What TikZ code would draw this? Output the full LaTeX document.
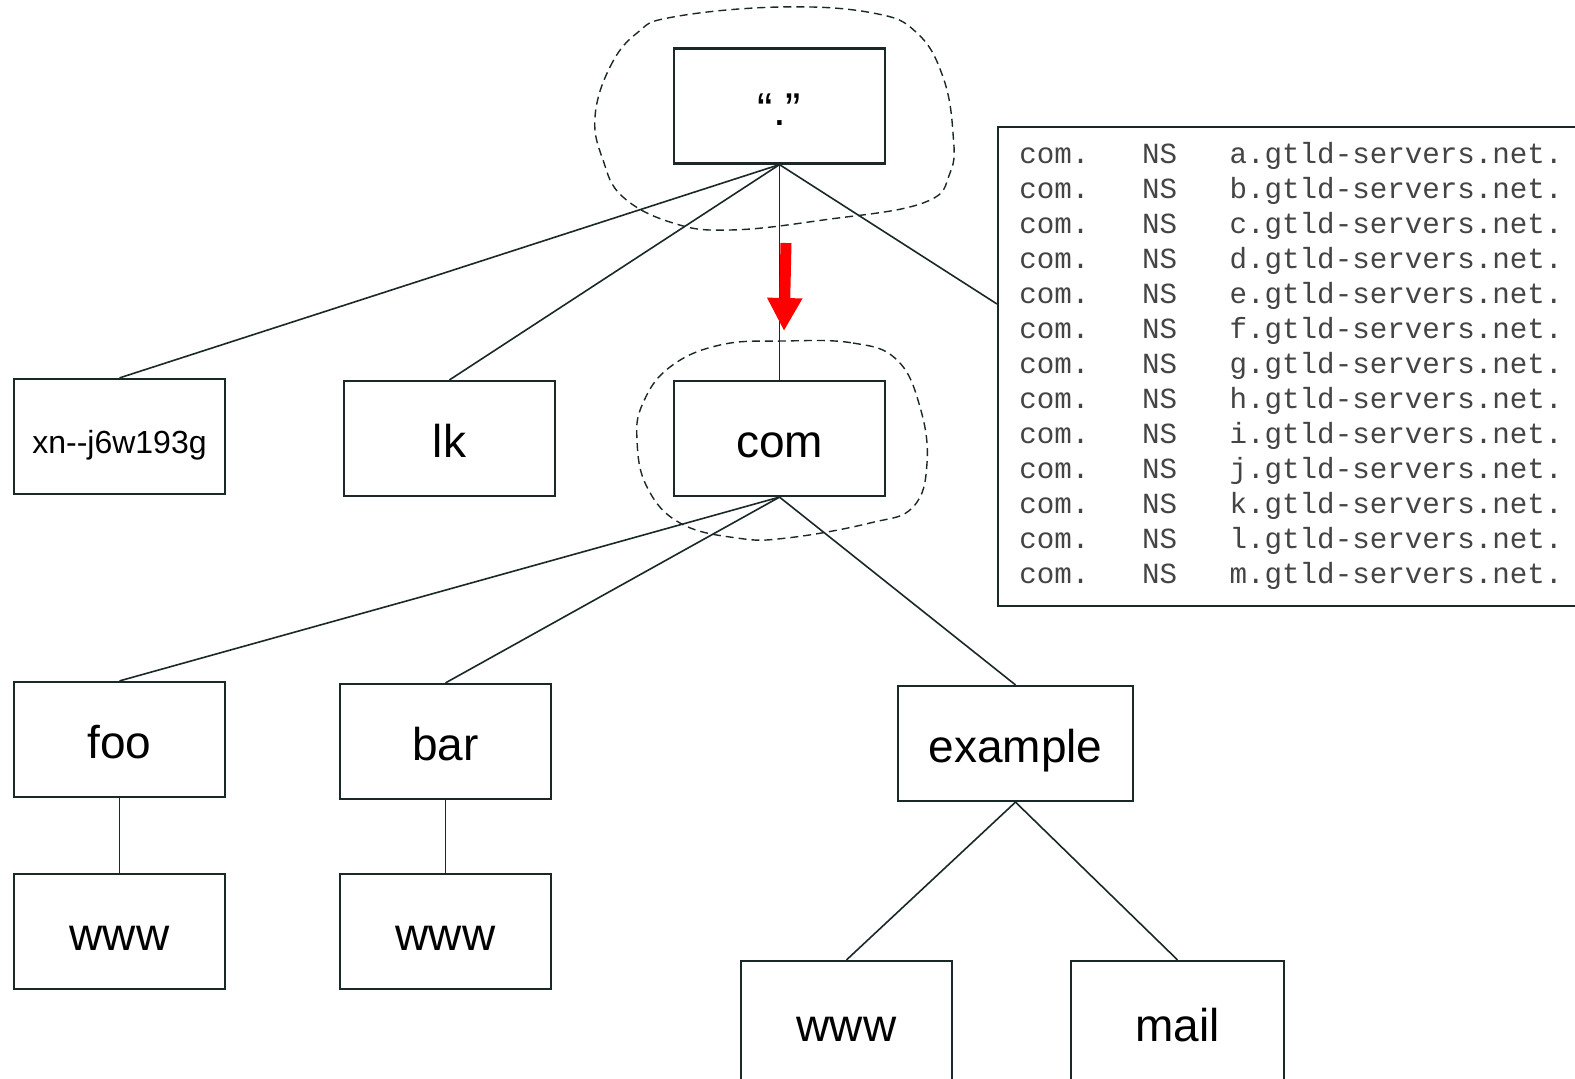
\documentclass[tikz,border=0pt]{standalone}
\usepackage{fontspec}
\setmainfont{Liberation Sans}
\newfontfamily\recfont{Liberation Mono}
\usetikzlibrary{arrows.meta}
\definecolor{ink}{HTML}{1A2828}
\definecolor{rectext}{HTML}{444444}
\tikzset{
    dom/.style={draw=ink, line width=1.1pt, rectangle, inner sep=0pt,
        minimum width=105.5pt, minimum height=57.5pt,
        font=\fontsize{23}{27}\selectfont, text height=19pt, text depth=0pt},
    branch/.style={draw=ink, line width=0.8pt},
    zonecut/.style={draw=ink, dash pattern=on 4pt off 2.5pt, line width=0.7pt},
    rec/.style={anchor=base west, inner sep=0pt, text=rectext,
        font=\recfont\fontsize{14.6}{17}\selectfont},
}

\begin{document}
\begin{tikzpicture}[x=0.5pt, y=-0.5pt]
    \path[use as bounding box, clip] (0,0) rectangle (1575,1078);

    % domain tree
    \node[dom] (root) at (779.5,106) {“.”};
    \node[dom, font=\fontsize{16}{19}\selectfont, text height=16.5pt] (xn) at (119.5,436.5) {xn-{}-j6w193g};
    \node[dom] (lk) at (449.5,438.5) {lk};
    \node[dom] (com) at (779.5,438.5) {com};
    \node[dom] (foo) at (119.5,739.5) {foo};
    \node[dom] (bar) at (445.5,741.5) {bar};
    \node[dom, minimum width=117.5pt] (example) at (1015.5,743.5) {example};
    \node[dom] (foowww) at (119.5,931.5) {www};
    \node[dom] (barwww) at (445.5,931.5) {www};
    \node[dom, minimum height=61pt] (exwww) at (846.5,1022) {www};
    \node[dom, minimum height=61pt, minimum width=106.5pt] (mail) at (1177.5,1022) {mail};

    % delegation records of com
    \node[draw=ink, line width=1.1pt, anchor=north west, minimum width=320pt, minimum height=239.5pt] (zone) at (997,126) {};
    \foreach \letter [count=\row from 0] in {a,...,m} {
        \node[rec] (rec\letter) at (1019,{163+35*\row}) {com.\ \ \ NS\ \ \ \letter.gtld-servers.net.};
    }
    \coordinate (zonein) at (997,304);

    % branches
    \foreach \child in {xn,lk,com} {
        \draw[branch] (root.south) -- (\child.north);
    }
    \draw[branch] (root.south) -- (zonein);
    \foreach \child in {foo,bar,example} {
        \draw[branch] (com.south) -- (\child.north);
    }
    \draw[branch] (foo) -- (foowww);
    \draw[branch] (bar) -- (barwww);
    \foreach \child in {exwww,mail} {
        \draw[branch] (example.south) -- (\child.north);
    }

    % zone cuts
    \draw[zonecut] plot[smooth cycle, tension=0.7] coordinates {
        (595,117) (610,67) (637,33) (673,17) (780,7) (873,13) (917,33) (943,77)
        (953,133) (950,173) (923,203) (823,220) (730,230) (673,223) (623,197) (603,160)};
    \draw[zonecut] plot[smooth cycle, tension=0.7] coordinates {
        (783,341) (853,343) (897,360) (920,407) (927,463) (913,507) (870,523) (787,538)
        (737,538) (680,523) (647,487) (637,440) (643,403) (670,367) (720,345)};

    % referral
    \coordinate (hintfrom) at (786,243);
    \coordinate (hintto) at (784,331);
    \draw[red, line width=5.5pt, -{Triangle[length=16.5pt, width=16.5pt]}] (hintfrom) -- (hintto);
\end{tikzpicture}
\end{document}
